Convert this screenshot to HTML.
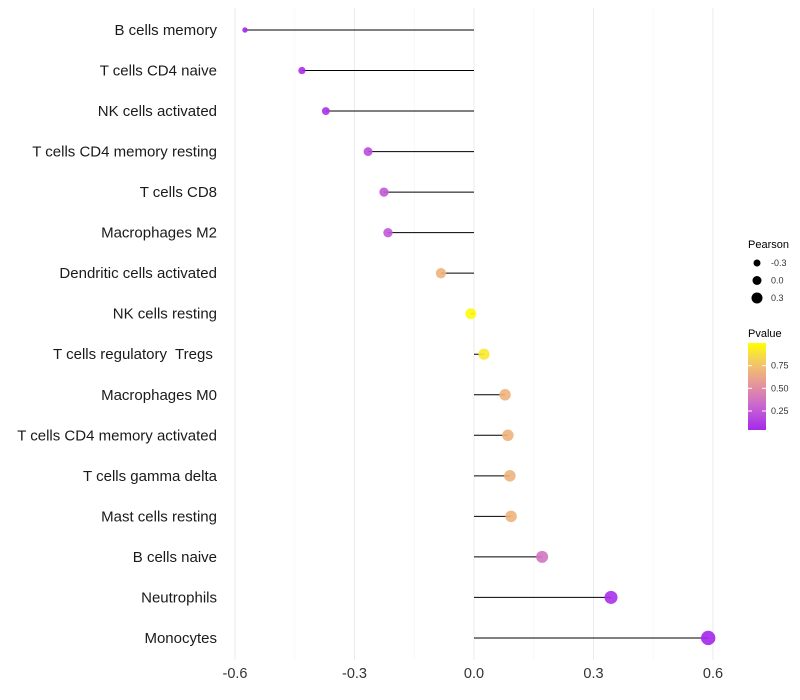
<!DOCTYPE html>
<html><head><meta charset="utf-8"><style>
body{margin:0;background:#fff;}
svg{display:block;font-family:"Liberation Sans",sans-serif;}
text{white-space:pre;}
</style></head><body>
<svg id="chart" width="800" height="700"></svg>
<script>
const categories=["B cells memory","T cells CD4 naive","NK cells activated","T cells CD4 memory resting","T cells CD8","Macrophages M2","Dendritic cells activated","NK cells resting","T cells regulatory  Tregs ","Macrophages M0","T cells CD4 memory activated","T cells gamma delta","Mast cells resting","B cells naive","Neutrophils","Monocytes"];
const pearson=[-0.575,-0.432,-0.372,-0.266,-0.226,-0.216,-0.083,-0.008,0.025,0.078,0.085,0.09,0.093,0.171,0.344,0.588];
const pvalues=[0.03,0.06,0.08,0.2,0.25,0.25,0.68,0.98,0.92,0.68,0.68,0.68,0.68,0.38,0.07,0.03];
const xTicks=[-0.6,-0.3,0.0,0.3,0.6];
const xTickLabels=["-0.6","-0.3","0.0","0.3","0.6"];
const sizeLegend=[-0.3,0.0,0.3];
const colorTicks=[0.25,0.5,0.75];

const NS="http://www.w3.org/2000/svg";
const svg=document.getElementById('chart');
function el(t,a,p){const e=document.createElementNS(NS,t);for(const k in a)e.setAttribute(k,a[k]);(p||svg).appendChild(e);return e;}
const x=v=>474+v*398.3;
const y=i=>30+i*40.53;
const r=v=>Math.sqrt(Math.max(1,22.8+32.7*v))+0.7;
function lerp(a,b,t){return a.map((c,i)=>Math.round(c+(b[i]-c)*t));}
function col(p){
  const stops=[[0,[160,32,240]],[0.3,[200,100,210]],[0.5,[225,140,165]],[0.7,[240,182,120]],[0.85,[245,215,80]],[1,[255,255,0]]];
  p=Math.max(0,Math.min(1,p));
  for(let i=0;i<stops.length-1;i++){if(p<=stops[i+1][0]){const t=(p-stops[i][0])/(stops[i+1][0]-stops[i][0]);return 'rgb('+lerp(stops[i][1],stops[i+1][1],t).join(',')+')';}}
  return 'rgb(255,255,0)';
}
const grid=el('g',{});


for(let k=-4;k<=4;k++){
  const v=k*0.15, major=k%2===0;
  el('line',{x1:x(v),x2:x(v),y1:8,y2:660,stroke:major?'#ebebeb':'#f4f4f4','stroke-width':major?1:0.6},grid);
}
xTicks.forEach((v,i)=>{
  const t=el('text',{x:x(v),y:678,'text-anchor':'middle','font-size':14.5,fill:'#333'});
  t.textContent=xTickLabels[i];
  
  
});
categories.forEach((c,i)=>{
  const t=el('text',{x:217,y:y(i)+5,'text-anchor':'end','font-size':15,fill:'#1a1a1a'});
  t.textContent=c;
  
  
  const l=el('line',{x1:x(0),x2:x(pearson[i]),y1:y(i),y2:y(i),stroke:'#000','stroke-width':1});
  
  
  const d=el('circle',{cx:x(pearson[i]),cy:y(i),r:r(pearson[i]),fill:col(pvalues[i]),'fill-opacity':0.9});
  
  
});
const lg=el('g',{});


const t1=el('text',{x:748,y:248,'font-size':11,fill:'#000'},lg);t1.textContent='Pearson';
sizeLegend.forEach((v,i)=>{
  const cy=263+i*17.5;
  el('circle',{cx:757,cy:cy,r:3.5+1*(i),fill:'#000'},lg);
  const t=el('text',{x:771,y:cy+3,'font-size':9,fill:'#333'},lg);t.textContent=v.toFixed(1);
});
const t2=el('text',{x:748,y:337,'font-size':11,fill:'#000'},lg);t2.textContent='Pvalue';
const defs=el('defs',{});
const gr=el('linearGradient',{id:'pg',x1:0,y1:1,x2:0,y2:0},defs);
[0,0.1,0.2,0.3,0.4,0.5,0.6,0.7,0.8,0.9,1].forEach(s=>el('stop',{offset:s,'stop-color':col(0.04+s*0.96)},gr));
el('rect',{x:748,y:343,width:18,height:87,fill:'url(#pg)'},lg);
colorTicks.forEach(v=>{
  const cy=430-(v-0.04)/0.96*87;
  el('line',{x1:748,x2:752,y1:cy,y2:cy,stroke:'#fff'},lg);
  el('line',{x1:762,x2:766,y1:cy,y2:cy,stroke:'#fff'},lg);
  const t=el('text',{x:771,y:cy+3,'font-size':9,fill:'#333'},lg);t.textContent=v.toFixed(2);
});
</script>
</body></html>
